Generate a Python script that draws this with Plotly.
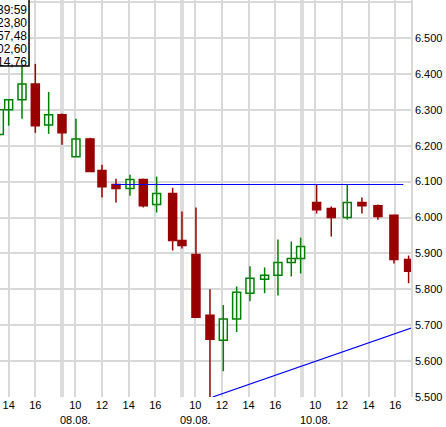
import plotly.graph_objects as go

# candle time (session slot: 9 slots per day, 08.08. 9h = 9) and OHLC
slot = [4.3, 5.0, 6.0, 7.0, 8.0, 9.0, 10.05, 11.1, 12.0, 13.05, 14.1, 15.1, 16.1, 17.3,
        18.0, 19.05, 20.1, 21.1, 22.1, 23.1, 24.2, 25.2, 26.2,
        26.9, 28.1, 29.2, 30.4, 31.5, 32.7, 33.9, 35.0]
opn = [6.231, 6.300, 6.328, 6.372, 6.258, 6.286, 6.169, 6.219, 6.131, 6.092, 6.081, 6.106, 6.036, 6.067,
       5.936, 5.897, 5.728, 5.658, 5.717, 5.789, 5.828, 5.839, 5.875,
       5.886, 6.042, 6.025, 6.000, 6.042, 6.033, 6.006, 5.883]
high = [6.320, 6.328, 6.428, 6.428, 6.350, 6.290, 6.275, 6.222, 6.147, 6.108, 6.119, 6.108, 6.114, 6.083,
        6.017, 6.028, 5.800, 5.756, 5.808, 5.864, 5.861, 5.939, 5.933,
        5.944, 6.092, 6.031, 6.092, 6.056, 6.036, 6.008, 5.894]
low = [6.220, 6.256, 6.275, 6.236, 6.233, 6.203, 6.169, 6.128, 6.056, 6.042, 6.061, 6.028, 6.014, 5.908,
       5.914, 5.722, 5.500, 5.572, 5.681, 5.767, 5.789, 5.783, 5.836,
       5.844, 6.011, 5.947, 5.994, 6.011, 5.994, 5.872, 5.817]
close = [6.300, 6.328, 6.372, 6.256, 6.286, 6.236, 6.219, 6.128, 6.086, 6.081, 6.106, 6.033, 6.067, 5.936,
         5.922, 5.722, 5.661, 5.717, 5.792, 5.831, 5.839, 5.875, 5.886,
         5.919, 6.022, 6.000, 6.042, 6.033, 6.003, 5.883, 5.850]

# trend lines
res_x, res_y = [12.85, 34.6], [6.092, 6.092]
sup_x, sup_y = [20.3, 35.2], [5.500, 5.692]

day_starts = [0, 9, 18, 27]
day_names = ['07.08.', '08.08.', '09.08.', '10.08.']
hours = [10, 12, 14, 16]
info_lines = ['39:59', '23,80', '57,48', '02,60', '14,76']
y_ticks = [round(5.5 + i * 0.1, 1) for i in range(12)]

GREEN, RED = '#008000', '#990000'
FONT = dict(family='Liberation Sans, Arial', size=11, color='black')

tickvals, ticktext = [], []
for d in day_starts:
    for h in hours:
        tickvals.append(d + h - 9)
        ticktext.append(str(h))

fig = go.Figure()
for up in (True, False):
    idx = [i for i in range(len(slot)) if (close[i] >= opn[i]) == up]
    col = GREEN if up else RED
    wx, wy = [], []
    for i in idx:
        wx += [slot[i], slot[i], None]
        wy += [low[i], high[i], None]
    fig.add_trace(go.Scatter(x=wx, y=wy, mode='lines', line=dict(color=col, width=1.5),
                             showlegend=False, hoverinfo='skip'))
    fig.add_trace(go.Bar(
        x=[slot[i] for i in idx],
        y=[max(abs(close[i] - opn[i]), 0.004) for i in idx],
        base=[min(opn[i], close[i]) for i in idx],
        width=0.6, marker=dict(color='white' if up else RED, line=dict(color=col, width=1.5)),
        showlegend=False, hoverinfo='skip'))

fig.add_trace(go.Scatter(x=res_x, y=res_y, mode='lines', line=dict(color='#0000ff', width=1.2),
                         showlegend=False))
fig.add_trace(go.Scatter(x=sup_x, y=sup_y, mode='lines', line=dict(color='#0000ff', width=1.2),
                         showlegend=False))

for d in day_starts[1:]:
    fig.add_shape(type='line', x0=d, x1=d, y0=0, y1=1, yref='paper',
                  line=dict(color='#dcdcdc', width=4), layer='below')

for d, name in zip(day_starts[1:], day_names[1:]):
    fig.add_annotation(text=name, x=d + 1, y=0, yref='paper', yshift=-23, yanchor='middle',
                       showarrow=False, font=FONT)

fig.add_shape(type='rect', xref='paper', yref='paper', x0=-0.01, x1=0.0706, y0=0.834, y1=1.01,
              line=dict(color='black', width=1.5), fillcolor='white')
for i, t in enumerate(info_lines):
    fig.add_annotation(text=t, xref='paper', yref='paper', x=0.0706, y=0.998 - i * 0.0327,
                       xanchor='right', yanchor='top', showarrow=False,
                       font=dict(family='Liberation Sans, Arial', size=12, color='black'))

fig.update_layout(
    width=446, height=427, margin=dict(l=0, r=35, t=0, b=30),
    plot_bgcolor='white', paper_bgcolor='white', barmode='overlay',
    xaxis=dict(range=[4.35, 35.18], tickmode='array', tickvals=tickvals, ticktext=ticktext,
               showgrid=True, gridcolor='#d8d8d8', gridwidth=1.5, zeroline=False,
               ticks='', tickfont=FONT),
    yaxis=dict(range=[5.5, 6.606], side='right', tickmode='array', tickvals=y_ticks,
               ticktext=[f'{v:.3f}' for v in y_ticks], showgrid=True,
               gridcolor='#d8d8d8', gridwidth=1.5, zeroline=False, ticks='',
               showline=True, linecolor='#d8d8d8', linewidth=1.5, tickfont=FONT),
)

fig.write_html('out.html', config={'displayModeBar': False},
               post_script="document.body.style.margin='0';")
